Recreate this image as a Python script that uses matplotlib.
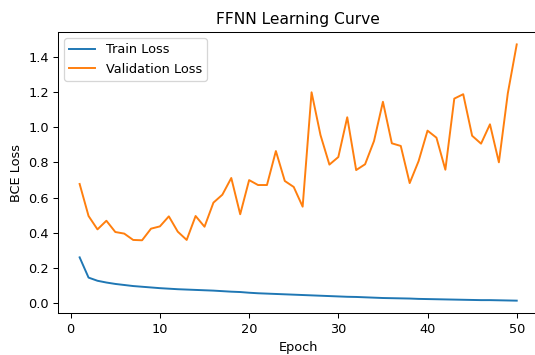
import matplotlib
matplotlib.use("Agg")
import matplotlib.pyplot as plt
import numpy as np

epochs = list(range(1, 51))

train_loss = [0.261, 0.146, 0.128, 0.118, 0.110, 0.104, 0.098, 0.094, 0.090, 0.086,
              0.083, 0.080, 0.078, 0.076, 0.074, 0.072, 0.069, 0.066, 0.064, 0.060,
              0.057, 0.055, 0.053, 0.051, 0.049, 0.047, 0.045, 0.043, 0.041, 0.039,
              0.037, 0.036, 0.034, 0.032, 0.030, 0.029, 0.028, 0.027, 0.025, 0.024,
              0.023, 0.022, 0.021, 0.020, 0.019, 0.018, 0.018, 0.017, 0.016, 0.015]

val_loss = [0.678, 0.496, 0.420, 0.469, 0.405, 0.396, 0.360, 0.358, 0.424, 0.437,
            0.494, 0.407, 0.360, 0.496, 0.435, 0.572, 0.617, 0.712, 0.506, 0.700,
            0.672, 0.672, 0.865, 0.695, 0.661, 0.549, 1.199, 0.956, 0.788, 0.831,
            1.057, 0.757, 0.790, 0.922, 1.145, 0.909, 0.894, 0.683, 0.808, 0.981,
            0.941, 0.759, 1.163, 1.188, 0.952, 0.907, 1.017, 0.801, 1.193, 1.471]

DPI = 93
fig = plt.figure(figsize=(535 / DPI, 355 / DPI), dpi=DPI)
ax = fig.add_axes([0.108, 0.117, 0.8987, 0.794])

ax.plot(epochs, train_loss, label="Train Loss")
ax.plot(epochs, val_loss, label="Validation Loss")

ax.set_title("FFNN Learning Curve")
ax.set_xlabel("Epoch")
ax.set_ylabel("BCE Loss")
ax.legend(loc="upper left")

fig.savefig("out.png", dpi=DPI)
